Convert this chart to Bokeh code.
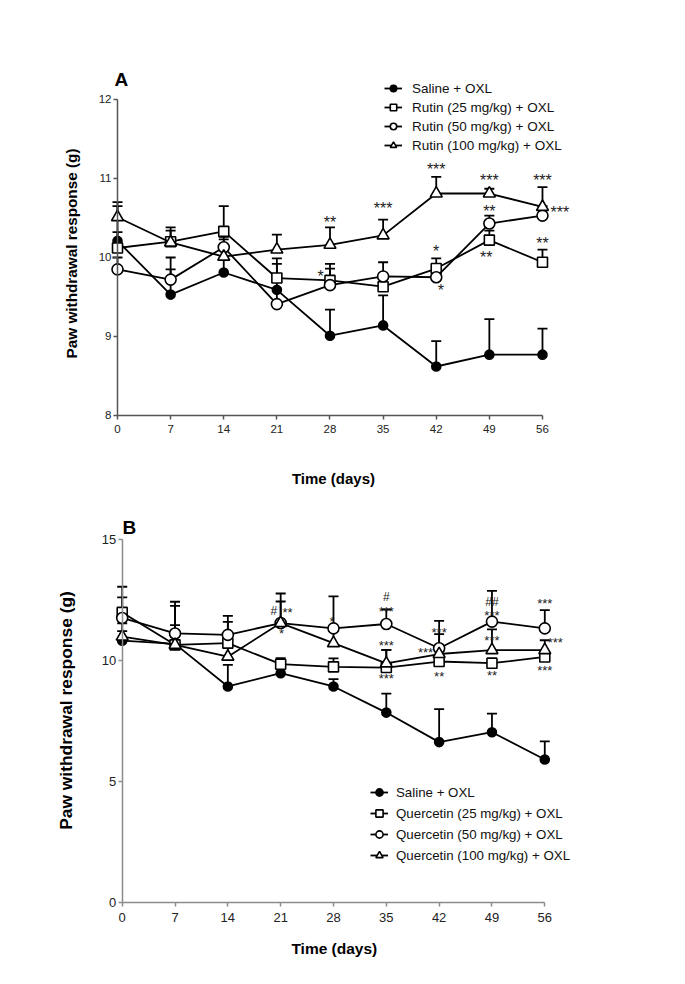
import math
from bokeh.plotting import figure
from bokeh.layouts import column
from bokeh.models import Range1d, FixedTicker, Legend, LegendItem, Label
from bokeh.core.properties import value
from bokeh.embed import file_html
from bokeh.resources import INLINE

FONT = "Liberation Sans"

days = [0, 7, 14, 21, 28, 35, 42, 49, 56]

# ---------------- Panel A (Rutin) ----------------
a_labels = ["Saline + OXL", "Rutin (25 mg/kg) + OXL",
            "Rutin (50 mg/kg) + OXL", "Rutin (100 mg/kg) + OXL"]
a_saline = [10.21, 9.53, 9.81, 9.59, 9.01, 9.14, 8.62, 8.77, 8.77]
a_saline_sem = [0.44, 0.32, 0.19, 0.33, 0.33, 0.38, 0.32, 0.45, 0.33]
a_r25 = [10.12, 10.20, 10.33, 9.74, 9.71, 9.63, 9.86, 10.22, 9.94]
a_r25_sem = [0.20, 0.18, 0.32, 0.25, 0.21, 0.10, 0.13, 0.12, 0.16]
a_r50 = [9.85, 9.72, 10.13, 9.41, 9.65, 9.76, 9.75, 10.43, 10.53]
a_r50_sem = [0.15, 0.28, 0.13, 0.20, 0.21, 0.18, 0.12, 0.10, 0.12]
a_r100 = [10.51, 10.19, 10.01, 10.10, 10.16, 10.28, 10.81, 10.81, 10.64]
a_r100_sem = [0.19, 0.15, 0.22, 0.19, 0.22, 0.20, 0.21, 0.06, 0.25]
a_yticks = [8, 9, 10, 11, 12]

a_star_x = [26.75, 28, 35, 42, 42, 42.6, 49, 49, 48.6, 56, 58.3, 56]
a_star_y = [9.80, 10.48, 10.66, 11.15, 10.11, 9.62, 11.01, 10.62, 10.04, 11.01, 10.61, 10.21]
a_star_t = ["*", "**", "***", "***", "*", "*", "***", "**", "**", "***", "***", "**"]

# ---------------- Panel B (Quercetin) ----------------
b_labels = ["Saline + OXL", "Quercetin (25 mg/kg) + OXL",
            "Quercetin (50 mg/kg) + OXL", "Quercetin (100 mg/kg) + OXL"]
b_saline = [10.83, 10.70, 8.94, 9.49, 8.94, 7.86, 6.64, 7.05, 5.92]
b_saline_sem = [0.40, 0.30, 0.89, 0.20, 0.30, 0.78, 1.36, 0.77, 0.75]
b_q25 = [12.00, 10.66, 10.73, 9.86, 9.75, 9.72, 9.97, 9.90, 10.16]
b_q25_sem = [1.06, 0.81, 0.88, 0.25, 0.35, 0.73, 0.25, 0.20, 0.20]
b_q50 = [11.77, 11.13, 11.07, 11.56, 11.34, 11.52, 10.52, 11.62, 11.34]
b_q50_sem = [0.85, 1.31, 0.79, 1.22, 1.32, 0.60, 1.13, 1.27, 0.75]
b_q100 = [11.00, 10.66, 10.17, 11.56, 10.73, 9.89, 10.28, 10.44, 10.44]
b_q100_sem = [0.55, 1.61, 0.60, 0.89, 0.50, 0.56, 0.82, 0.86, 0.41]
b_yticks = [0, 5, 10, 15]

b_star_x = [21.9, 21.1, 27.8, 35, 35, 35, 42, 40.2, 42, 49, 49, 49, 56, 57.4, 56]
b_star_y = [12.07, 11.21, 11.72, 12.14, 10.72, 9.34, 11.27, 10.44, 9.42, 11.95, 10.92, 9.48,
            12.44, 10.83, 9.68]
b_star_t = ["**", "*", "*", "***", "***", "***", "***", "***", "**", "***", "***", "**",
            "***", "***", "***"]
b_hash_x = [20.1, 35, 49]
b_hash_y = [12.07, 12.64, 12.41]
b_hash_t = ["#", "#", "##"]

X_TITLE = "Time (days)"
Y_TITLE = "Paw withdrawal response (g)"

MARKERS = ["circle", "square", "circle", "triangle"]
FILLS = ["black", "white", "white", "white"]
SIZES = [9, 10, 11, 12]


def make_panel(means, sems, labels, yticks, g):
    p = figure(width=680, height=g["h"], output_backend="svg", toolbar_location=None,
               x_range=Range1d(g["x0"], g["x1"]), y_range=Range1d(g["y0"], g["y1"]),
               min_border_left=g["bl"], min_border_right=g["br"],
               min_border_top=g["bt"], min_border_bottom=g["bb"])
    p.outline_line_color = None
    p.grid.visible = False
    xa = p.xaxis[0]
    ya = p.yaxis[0]
    xa.ticker = FixedTicker(ticks=days)
    ya.ticker = FixedTicker(ticks=yticks)
    xa.bounds = (0, 56)
    ya.bounds = (yticks[0], yticks[-1])
    ya.fixed_location = 0
    xa.fixed_location = yticks[0]
    for ax in (xa, ya):
        ax.axis_line_color = g["axc"]
        ax.axis_line_width = 1.5
        ax.major_tick_line_color = g["axc"]
        ax.major_tick_line_width = 1.5
        ax.major_tick_in = 0
        ax.major_tick_out = 4
        ax.minor_tick_line_color = None
        ax.major_label_text_font = FONT
        ax.major_label_text_font_size = g["tick_fs"]
        ax.major_label_text_color = "#222222"
    xa.major_label_standoff = 6
    ya.major_label_standoff = 2

    # error bars (upper only)
    for m, s in zip(means, sems):
        tops = [mi + si for mi, si in zip(m, s)]
        p.segment(x0=days, y0=m, x1=days, y1=tops, line_color="black", line_width=1.8)
        p.scatter(x=days, y=tops, marker="dash", size=10, line_color="black", line_width=1.8)

    items = []
    for i, m in enumerate(means):
        lr = p.line(days, m, line_color="black", line_width=1.8)
        sr = p.scatter(days, m, marker=MARKERS[i], size=SIZES[i], fill_color=FILLS[i],
                       line_color="black", line_width=1.6)
        items.append(LegendItem(label=labels[i], renderers=[lr, sr]))

    leg = Legend(items=items, location=g["leg_loc"], glyph_width=18,
                 glyph_height=g["leg_gh"], label_height=g["leg_gh"], spacing=g["leg_sp"],
                 padding=0, margin=0, label_standoff=g["leg_so"],
                 border_line_color=None, background_fill_alpha=0,
                 label_text_font=FONT, label_text_font_size=g["leg_fs"],
                 label_text_color="#111111")
    p.add_layout(leg)

    # panel letter
    p.add_layout(Label(x=g["pl_x"], y=g["pl_y"], text=g["pl"], text_font=FONT,
                       text_font_style="bold", text_font_size="19px",
                       text_baseline="middle", text_color="black"))
    # axis titles
    p.add_layout(Label(x=g["xt_x"], y=g["xt_y"], text=X_TITLE, text_font=FONT,
                       text_font_style="bold", text_font_size=g["xt_fs"],
                       text_align="center", text_baseline="middle", text_color="black"))
    p.add_layout(Label(x=g["yt_x"], y=g["yt_y"], text=Y_TITLE, text_font=FONT,
                       text_font_style="bold", text_font_size=g["yt_fs"], angle=math.pi / 2,
                       text_align="center", text_baseline="middle", text_color="black"))
    return p


ga = dict(h=500, x0=-8.829, x1=63.645, y0=6.987, y1=12.4937, bl=50, br=80, bt=60, bb=5,
          axc="#555555", tick_fs="11.5px",
          xt_fs="15px", xt_x=28.46, xt_y=7.203,
          yt_fs="15.3px", yt_x=-6.10, yt_y=10.051,
          leg_loc=(334, 342), leg_gh=16, leg_sp=3, leg_so=10, leg_fs="13.5px",
          pl="A", pl_x=-0.4, pl_y=12.25)
pa = make_panel([a_saline, a_r25, a_r50, a_r100],
                [a_saline_sem, a_r25_sem, a_r50_sem, a_r100_sem], a_labels, a_yticks, ga)
pa.text(x=a_star_x, y=a_star_y, text=a_star_t, text_font=value(FONT),
        text_font_size="16px", text_align="center", text_baseline="alphabetic",
        y_offset=3, text_color="#222222")

gb = dict(h=476, x0=-9.502, x1=63.384, y0=-2.467, y1=16.128, bl=50, br=80, bt=12, bb=14,
          axc="#8c8c8c", tick_fs="13px",
          xt_fs="15.5px", xt_x=28.11, xt_y=-1.888,
          yt_fs="17.4px", yt_x=-7.42, yt_y=7.946,
          leg_loc=(320, 98), leg_gh=18, leg_sp=3, leg_so=8, leg_fs="13.3px",
          pl="B", pl_x=0.05, pl_y=15.5)
pb = make_panel([b_saline, b_q25, b_q50, b_q100],
                [b_saline_sem, b_q25_sem, b_q50_sem, b_q100_sem], b_labels, b_yticks, gb)
pb.text(x=b_star_x, y=b_star_y, text=b_star_t, text_font=value(FONT),
        text_font_size="13px", text_align="center", text_baseline="alphabetic",
        y_offset=2, text_color="#222222")
pb.text(x=b_hash_x, y=b_hash_y, text=b_hash_t, text_font=value(FONT),
        text_font_size="12px", text_align="center", text_baseline="alphabetic",
        y_offset=0, text_color="#222222")

layout = column(pa, pb, spacing=0)
open("out.html", "w").write(file_html(layout, INLINE))
